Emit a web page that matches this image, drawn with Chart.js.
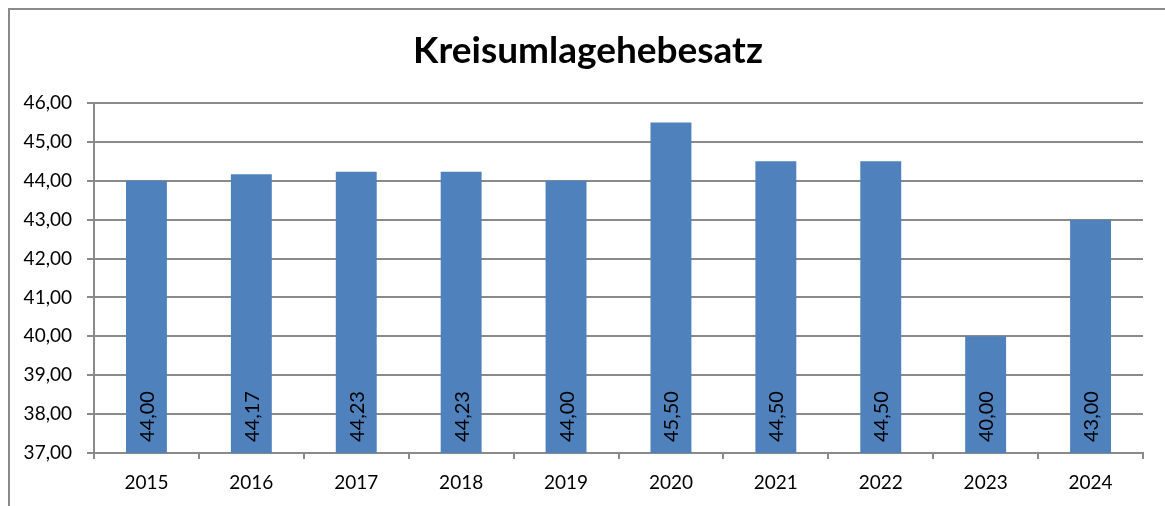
<!DOCTYPE html>
<html>
<head>
<meta charset="utf-8">
<script src="https://cdn.jsdelivr.net/npm/chart.js@4"></script>
<style>
  html, body { margin: 0; padding: 0; background: #fff; }
  #wrap { width: 1165px; height: 506px; }
</style>
</head>
<body>
<div id="wrap"><canvas id="chart" width="1165" height="506"></canvas></div>
<script>
const years = ['2015', '2016', '2017', '2018', '2019', '2020', '2021', '2022', '2023', '2024'];
const hebesatz = [44.00, 44.17, 44.23, 44.23, 44.00, 45.50, 44.50, 44.50, 40.00, 43.00];
const yMin = 37;
const yMax = 46;

const gridColor = '#8a8a8a';
const fmt = v => v.toFixed(2).replace('.', ',');

// frame of the chart object (only top and left edges are in the picture)
const framePlugin = {
  id: 'frame',
  afterLayout(chart) {
    // centre the title on the whole frame, not only on the padded box
    if (chart.titleBlock) {
      chart.titleBlock.left = 9;
      chart.titleBlock.right = 1167;
    }
  },
  beforeDraw(chart) {
    const c = chart.ctx;
    c.save();
    c.strokeStyle = gridColor;
    c.lineWidth = 2;
    c.strokeRect(9, 9, 1300, 700);
    c.restore();
  }
};

// values written upright inside the foot of every bar
const barLabels = {
  id: 'barLabels',
  afterDraw(chart) {
    const c = chart.ctx;
    const meta = chart.getDatasetMeta(0);
    const base = chart.scales.y.getPixelForValue(yMin);
    c.save();
    c.font = '20px Lato';
    c.fillStyle = '#000';
    c.textAlign = 'left';
    c.textBaseline = 'middle';
    meta.data.forEach((bar, i) => {
      const p = bar.getProps(['x'], true);
      c.save();
      c.translate(p.x + 1, base - 11);
      c.rotate(-Math.PI / 2);
      c.fillText(fmt(hebesatz[i]), 0, 0);
      c.restore();
    });
    c.restore();
  }
};

new Chart(document.getElementById('chart'), {
  type: 'bar',
  data: {
    labels: years,
    datasets: [{
      data: hebesatz,
      backgroundColor: '#4f81bd',
      barPercentage: 0.39,
      categoryPercentage: 1
    }]
  },
  options: {
    responsive: false,
    animation: false,
    layout: { padding: { left: 0, right: 22, top: 0, bottom: 0 } },
    plugins: {
      legend: { display: false },
      tooltip: { enabled: false },
      title: {
        display: true,
        text: 'Kreisumlagehebesatz',
        color: '#000',
        font: { family: 'Lato', size: 37, weight: 'bold', lineHeight: 1.2 },
        padding: { top: 28.8, bottom: 29.8 }
      }
    },
    scales: {
      x: {
        offset: true,
        grid: { offset: true, drawOnChartArea: false, color: gridColor, lineWidth: 2, tickLength: 6 },
        border: { color: gridColor, width: 2 },
        ticks: { color: '#000', font: { family: 'Lato', size: 19 }, padding: 12 },
        afterFit(s) { s.height = 53; }
      },
      y: {
        min: yMin,
        max: yMax,
        ticks: {
          stepSize: 1,
          color: '#000',
          font: { family: 'Lato', size: 19 },
          padding: 15,
          callback: v => fmt(v)
        },
        grid: { color: gridColor, lineWidth: 2, tickLength: 7 },
        border: { color: gridColor, width: 2 },
        afterFit(s) { s.width = 94; }
      }
    }
  },
  plugins: [framePlugin, barLabels]
});
</script>
</body>
</html>
